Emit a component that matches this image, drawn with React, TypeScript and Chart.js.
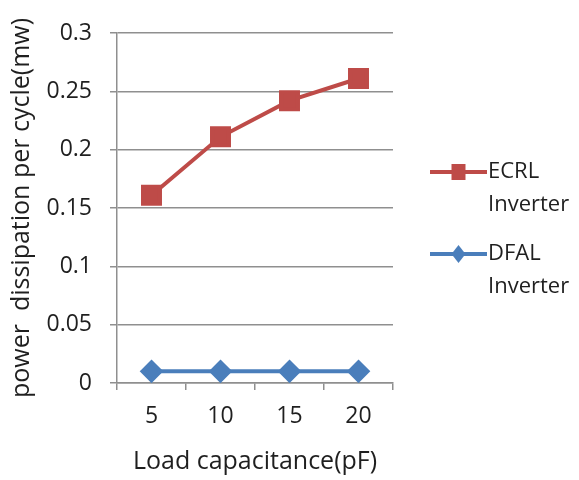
import React, { useEffect, useRef } from 'react';
import { Chart, registerables } from 'chart.js';

Chart.register(...registerables);

const categories = ['5', '10', '15', '20'];
const ecrlValues = [0.161, 0.211, 0.242, 0.261];
const dfalValues = [0.01, 0.01, 0.01, 0.01];
const seriesNames = [['ECRL', 'Inverter'], ['DFAL', 'Inverter']];
const yMin = 0;
const yMax = 0.3;
const yStep = 0.05;
const xTitle = 'Load capacitance(pF)';
const yTitle = 'power  dissipation per cycle(mw)';

const FONT = "'Open Sans', sans-serif";
const TEXT = '#1f1f1f';
const GRID = '#8f8f8f';

const legendPlugin = {
  id: 'sideLegend',
  afterDraw(chart: any) {
    const ctx = chart.ctx;
    const right = chart.chartArea.right;
    const rows = [172, 254];
    ctx.save();
    chart.data.datasets.forEach((ds: any, i: number) => {
      const y = rows[i];
      const x0 = right + 37;
      const x1 = right + 94;
      ctx.strokeStyle = ds.borderColor;
      ctx.lineWidth = ds.borderWidth;
      ctx.beginPath();
      ctx.moveTo(x0, y);
      ctx.lineTo(x1, y);
      ctx.stroke();
      ctx.fillStyle = ds.pointBackgroundColor;
      ctx.beginPath();
      const cx = (x0 + x1) / 2;
      if (ds.pointStyle === 'rect') {
        ctx.rect(cx - 7, y - 8, 14, 16);
      } else {
        ctx.moveTo(cx, y - 9);
        ctx.lineTo(cx + 7, y);
        ctx.lineTo(cx, y + 9);
        ctx.lineTo(cx - 7, y);
        ctx.closePath();
      }
      ctx.fill();
      ctx.fillStyle = TEXT;
      ctx.font = `22px ${FONT}`;
      ctx.textBaseline = 'middle';
      ctx.textAlign = 'left';
      const lines = seriesNames[i];
      lines.forEach((t, j) => {
        ctx.fillText(t, x1 + 1, y + j * 33);
      });
    });
    ctx.restore();
  },
};

export default function App() {
  const ref = useRef<HTMLCanvasElement>(null);
  useEffect(() => {
    if (!ref.current) return;
    const chart = new Chart(ref.current, {
      type: 'line',
      data: {
        labels: categories,
        datasets: [
          {
            label: seriesNames[0].join(' '),
            data: ecrlValues,
            borderColor: '#BE4B48',
            backgroundColor: '#BE4B48',
            pointBackgroundColor: '#BE4B48',
            pointBorderColor: '#BE4B48',
            borderWidth: 4,
            pointStyle: 'rect',
            pointRadius: 12,
            tension: 0,
          },
          {
            label: seriesNames[1].join(' '),
            data: dfalValues,
            borderColor: '#4A7EBB',
            backgroundColor: '#4A7EBB',
            pointBackgroundColor: '#4A7EBB',
            pointBorderColor: '#4A7EBB',
            borderWidth: 4,
            pointStyle: 'rectRot',
            pointRadius: 9,
            tension: 0,
          },
        ],
      },
      options: {
        responsive: false,
        animation: false,
        layout: { padding: { left: 0, top: 33, right: 186, bottom: 0 } },
        plugins: { legend: { display: false }, tooltip: { enabled: false } },
        scales: {
          x: {
            offset: true,
            grid: {
              display: true,
              drawOnChartArea: false,
              drawTicks: true,
              offset: true,
              tickLength: 7,
              color: GRID,
              lineWidth: 1.5,
            },
            border: { display: true, color: GRID, width: 1.5 },
            ticks: { color: TEXT, font: { family: FONT, size: 23 }, padding: 13 },
            title: {
              display: true,
              text: xTitle,
              color: TEXT,
              font: { family: FONT, size: 25 },
              padding: { top: 0, bottom: 3 },
            },
            afterFit: (s: any) => {
              s.height = 97;
            },
          },
          y: {
            min: yMin,
            max: yMax,
            grid: { color: GRID, lineWidth: 1.5, tickLength: 7, drawTicks: true },
            border: { display: true, color: GRID, width: 1.5 },
            ticks: {
              stepSize: yStep,
              color: TEXT,
              font: { family: FONT, size: 23 },
              padding: 18,
              callback: (v: any) => String(parseFloat(Number(v).toFixed(2))),
            },
            title: {
              display: true,
              text: yTitle,
              color: TEXT,
              font: { family: FONT, size: 25 },
              padding: { top: 7, bottom: 0 },
            },
            afterFit: (s: any) => {
              s.width = 117;
            },
          },
        },
      },
      plugins: [legendPlugin],
    });
    return () => chart.destroy();
  }, []);
  return (
    <div style={{ position: 'fixed', left: 0, top: 0, width: 579, height: 480, background: '#fff' }}>
      <canvas ref={ref} width={579} height={480} />
    </div>
  );
}
